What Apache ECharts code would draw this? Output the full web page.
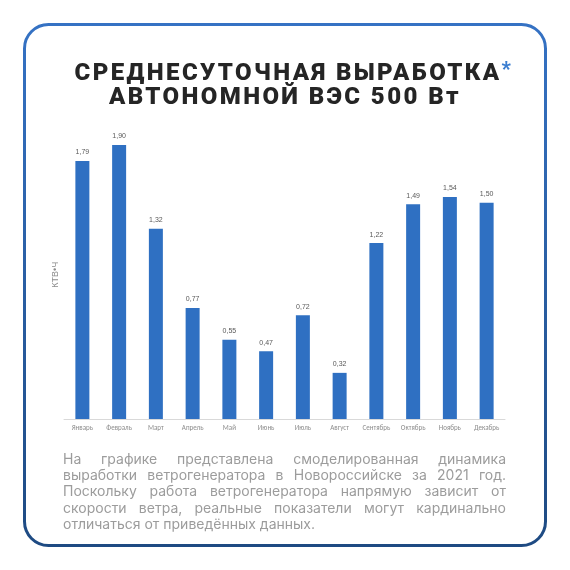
<!DOCTYPE html>
<html>
<head>
<meta charset="utf-8">
<script src="https://cdn.jsdelivr.net/npm/echarts@6/dist/echarts.min.js"></script>
<style>
html,body{margin:0;padding:0;background:#fff;}
#wrap{position:relative;width:570px;height:570px;}
#chart{position:absolute;left:0;top:0;width:570px;height:570px;}
#title{position:absolute;left:0;top:60px;width:570px;text-align:center;font-family:Roboto,sans-serif;font-weight:900;font-size:24px;line-height:24px;color:#252525;letter-spacing:2.4px;white-space:nowrap;}
#title .l1{position:relative;left:3px;}
#title .ast{position:absolute;left:100%;top:-1px;margin-left:0px;font-size:20px;font-weight:900;color:#3a7dd0;letter-spacing:0;}
#note{position:absolute;left:63px;top:451px;width:443px;font-family:Inter,'Noto Sans',sans-serif;font-size:14px;line-height:16.2px;color:#9c9c9c;}
#note div{text-align:justify;text-align-last:justify;white-space:nowrap;}
#note div.last{text-align-last:left;}
</style>
</head>
<body>
<div id="wrap">
<div id="chart"></div>
<div id="title"><span class="l1">СРЕДНЕСУТОЧНАЯ ВЫРАБОТКА<span class="ast">*</span></span><br>АВТОНОМНОЙ ВЭС 500 Вт</div>
<div id="note">
<div>На графике представлена смоделированная динамика</div>
<div>выработки ветрогенератора в Новороссийске за 2021 год.</div>
<div>Поскольку работа ветрогенератора напрямую зависит от</div>
<div>скорости ветра, реальные показатели могут кардинально</div>
<div class="last">отличаться от приведённых данных.</div>
</div>
</div>
<script>
const months = ['Январь','Февраль','Март','Апрель','Май','Июнь','Июль','Август','Сентябрь','Октябрь','Ноябрь','Декабрь'];
const values = [1.79,1.90,1.32,0.77,0.55,0.47,0.72,0.32,1.22,1.49,1.54,1.50];
const yName = 'КТВ•Ч';

const chart = echarts.init(document.getElementById('chart'), null, {renderer:'canvas'});
chart.setOption({
  animation:false,
  backgroundColor:'#ffffff',
  graphic:[{
    type:'rect',
    shape:{x:24.5,y:24.5,width:521,height:521,r:24},
    style:{fill:'none',lineWidth:3,stroke:{type:'linear',x:0,y:0,x2:0,y2:1,colorStops:[{offset:0,color:'#3572c4'},{offset:1,color:'#1e4a82'}]}}
  }],
  grid:{left:64,right:65,top:130.6,bottom:151},
  xAxis:{
    type:'category',data:months,
    axisLine:{lineStyle:{color:'#d9d9d9',width:1}},
    axisTick:{show:false},
    axisLabel:{fontFamily:'Calibri, Carlito, "Liberation Sans", sans-serif',fontSize:7,color:'#8c8c8c',margin:6,interval:0}
  },
  yAxis:{
    type:'value',min:0,max:2,
    name:yName,nameLocation:'middle',nameGap:4,nameRotate:90,
    nameTextStyle:{fontFamily:'"Liberation Sans", sans-serif',fontSize:9,color:'#8c8c8c'},
    axisLine:{show:false},axisTick:{show:false},axisLabel:{show:false},splitLine:{show:false}
  },
  series:[{
    type:'bar',data:values,barWidth:14,
    itemStyle:{color:'#2f70c2'},
    label:{show:true,position:'top',distance:5,fontFamily:'"Liberation Sans", sans-serif',fontSize:7,color:'#595959',
      formatter:p=>p.value.toFixed(2).replace('.',',')}
  }]
});
</script>
</body>
</html>
